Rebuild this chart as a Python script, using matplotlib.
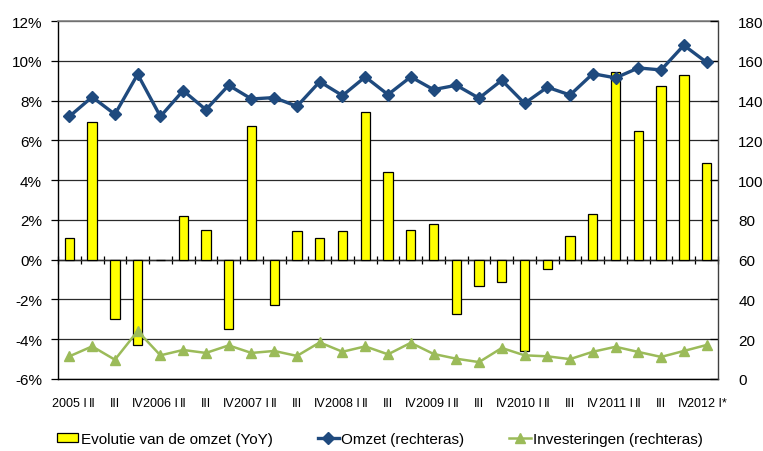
import matplotlib
matplotlib.use("Agg")
import matplotlib.pyplot as plt
from matplotlib.ticker import FuncFormatter, MultipleLocator
import numpy as np

plt.rcParams['font.family'] = ['Liberation Sans', 'DejaVu Sans']

labels = ["2005 I", "II", "III", "IV",
          "2006 I", "II", "III", "IV",
          "2007 I", "II", "III", "IV",
          "2008 I", "II", "III", "IV",
          "2009 I", "II", "III", "IV",
          "2010 I", "II", "III", "IV",
          "2011 I", "II", "III", "IV",
          "2012 I*"]

evolutie = [1.1, 6.9, -3.0, -4.3, 0.0, 2.2, 1.5, -3.5, 6.7, -2.3,
            1.45, 1.1, 1.45, 7.4, 4.4, 1.5, 1.8, -2.75, -1.3, -1.1,
            -4.6, -0.45, 1.2, 2.3, 9.45, 6.45, 8.75, 9.3, 4.85]

omzet = [132, 141.8, 133.1, 153.2, 132, 145, 135.4, 147.7, 140.8, 141.5,
         137.1, 149.5, 142.5, 151.9, 143, 151.9, 145.5, 147.7, 141.2, 150.2,
         138.6, 146.7, 142.8, 153.5, 151.4, 156.4, 155.4, 167.8, 159.2]

investeringen = [11.4, 16.4, 9.7, 24.1, 11.9, 14.6, 13.1, 16.9, 13.1, 14.1,
                 11.6, 18.4, 13.7, 16.4, 12.4, 18.2, 12.6, 10.2, 8.5, 15.6,
                 11.9, 11.4, 10.0, 13.7, 16.2, 13.6, 11.1, 14.1, 17.1]

x = np.arange(len(labels))

W, H = 763, 452
fig = plt.figure(figsize=(W / 100, H / 100), dpi=100)
ax = fig.add_axes([58 / W, 1 - 380 / H, 660 / W, 358 / H])

ax.set_xlim(-0.5, len(labels) - 0.5)
ax.set_ylim(-6, 12)
ax.yaxis.set_major_locator(MultipleLocator(2))
ax.yaxis.set_major_formatter(FuncFormatter(lambda v, p: f"{v:.0f}%"))
ax.grid(axis='y', color='#2a2a2a', linewidth=0.9)
ax.set_axisbelow(True)

bars = ax.bar(x, evolutie, width=0.41, color='#FFFF00', edgecolor='black',
              linewidth=0.9, zorder=3, label='Evolutie van de omzet (YoY)')

ax.set_xticks(x)
ax.set_xticklabels(labels, fontsize=9)
ax.tick_params(axis='x', length=0, pad=13)
ax.tick_params(axis='y', direction='out', length=5, width=0.9, labelsize=11, pad=6.5)

for side in ['left', 'bottom']:
    ax.spines[side].set_color('black')
    ax.spines[side].set_linewidth(1.0)
ax.spines['top'].set_color('#808080')
ax.spines['top'].set_linewidth(1.2)
ax.spines['right'].set_visible(False)

# category axis crossing at 0%
sec = ax.secondary_xaxis(6 / 18)
sec.set_xticks(np.arange(len(labels) + 1) - 0.5)
sec.set_xticklabels([])
sec.tick_params(direction='inout', length=6, width=0.9, color='black')
sec.spines['bottom'].set_color('black')
sec.spines['bottom'].set_linewidth(1.0)

ax2 = ax.twinx()
ax2.set_ylim(0, 180)
ax2.yaxis.set_major_locator(MultipleLocator(20))
ax2.tick_params(axis='y', direction='in', length=6, width=0.9, labelsize=11, pad=14.5)
ax2.spines['right'].set_color('#404040')
ax2.spines['right'].set_linewidth(1.0)
for side in ['left', 'top', 'bottom']:
    ax2.spines[side].set_visible(False)

l1, = ax2.plot(x, omzet, color='#1F4A7E', linewidth=2.4, marker='D',
               markersize=6, label='Omzet (rechteras)', zorder=4)
l2, = ax2.plot(x, investeringen, color='#9BBB59', linewidth=1.8, marker='^',
               markersize=7, label='Investeringen (rechteras)', zorder=4)

fig.legend(handles=[bars, l1, l2], loc='center',
           bbox_to_anchor=(380 / W, 1 - 440 / H), ncol=3, frameon=False,
           fontsize=11, handlelength=1.4, handleheight=0.55, handletextpad=0.15,
           columnspacing=2.95)

fig.savefig('out.png', dpi=100)
